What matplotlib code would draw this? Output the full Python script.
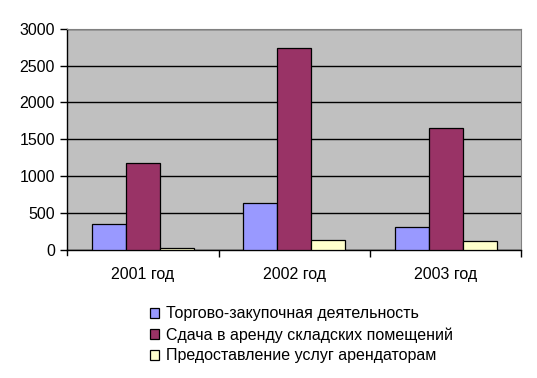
import numpy as np
import matplotlib
matplotlib.use('Agg')
import matplotlib.pyplot as plt

plt.rcParams['font.family'] = ['Liberation Sans', 'DejaVu Sans']

years = ['2001 год', '2002 год', '2003 год']
series_names = ['Торгово-закупочная деятельность',
                'Сдача в аренду складских помещений',
                'Предоставление услуг арендаторам']
trade = [350, 635, 310]
rent = [1175, 2745, 1650]
services = [25, 135, 120]
colors = ['#9999FF', '#993366', '#FFFFCC']

fig = plt.figure(figsize=(5.37, 3.78), dpi=100)
ax = fig.add_axes([67.3 / 537, 1 - 250 / 378, (521.3 - 67.3) / 537, (250 - 28.7) / 378])
ax.set_facecolor('#C0C0C0')

x = np.arange(len(years))
w = 0.225
bars = []
for i, (vals, name) in enumerate(zip([trade, rent, services], series_names)):
    b = ax.bar(x + (i - 1) * w, vals, w, color=colors[i], edgecolor='black',
               linewidth=0.9, label=name, zorder=3)
    bars.append(b)

ax.set_xlim(-0.5, 2.5)
ax.set_ylim(0, 3000)
ax.set_yticks(range(0, 3001, 500))
ax.yaxis.grid(True, color='black', linewidth=1, zorder=1)
ax.set_axisbelow(True)
ax.set_xticks(x)
ax.set_xticklabels(years)
ax.set_xticks([0.5, 1.5, 2.5], minor=True)
ax.tick_params(axis='x', which='major', length=0, pad=12, labelsize=11.5)
ax.tick_params(axis='x', which='minor', length=5, width=1, color='black')
ax.tick_params(axis='y', length=5, width=1, labelsize=11.5, pad=4)

for side in ['top', 'right']:
    ax.spines[side].set_color('#808080')
for side in ['left', 'bottom']:
    ax.spines[side].set_color('black')
    ax.spines[side].set_linewidth(1)
# tick at left edge of x axis
ax.axvline(-0.5, ymin=-5 / 221.3, ymax=0, color='black', lw=1, clip_on=False)

fig.legend(handles=bars, labels=series_names, loc='upper left',
           bbox_to_anchor=(144 / 537, 1 - 300 / 378), frameon=False,
           fontsize=11.5, handlelength=0.55, handleheight=0.55, handletextpad=0.4,
           labelspacing=0.36, borderaxespad=0)

fig.savefig('out.png', dpi=100)
